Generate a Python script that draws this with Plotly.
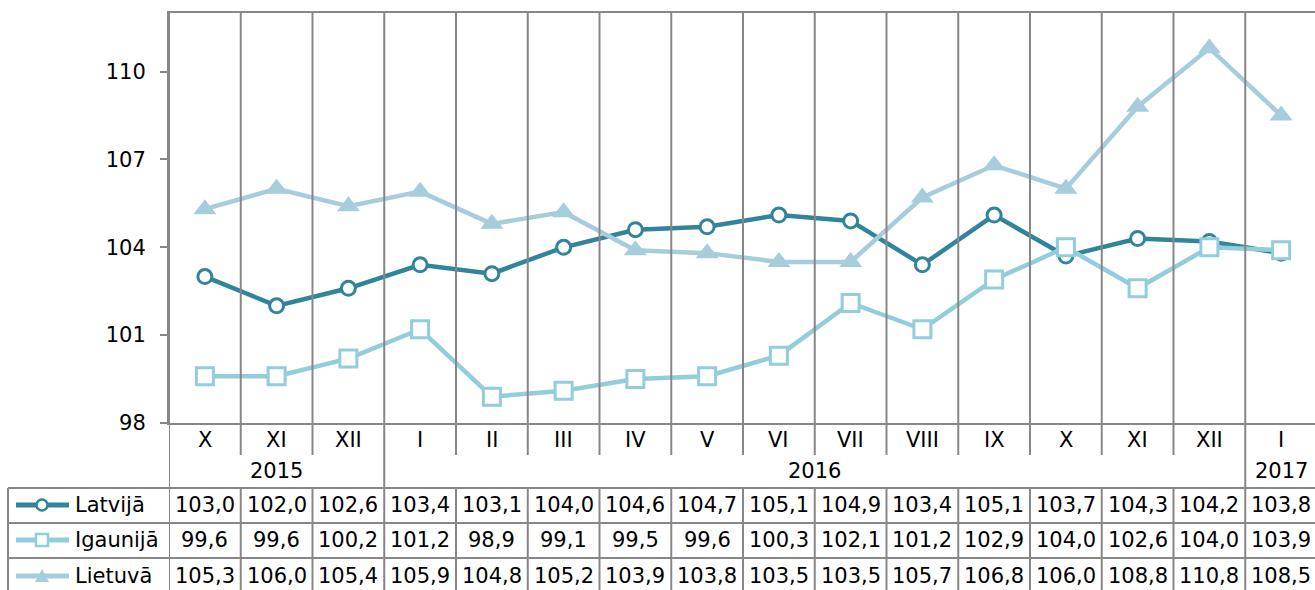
import plotly.graph_objects as go

# ---------------- data ----------------
months = ["X", "XI", "XII", "I", "II", "III", "IV", "V", "VI", "VII", "VIII", "IX", "X", "XI", "XII", "I"]
years = ["2015", "2016", "2017"]
year_first_col = [0, 3, 15]
year_last_col = [2, 14, 15]

series_names = ["Latvijā", "Igaunijā", "Lietuvā"]
latvija = [103.0, 102.0, 102.6, 103.4, 103.1, 104.0, 104.6, 104.7, 105.1, 104.9, 103.4, 105.1, 103.7, 104.3, 104.2, 103.8]
igaunija = [99.6, 99.6, 100.2, 101.2, 98.9, 99.1, 99.5, 99.6, 100.3, 102.1, 101.2, 102.9, 104.0, 102.6, 104.0, 103.9]
lietuva = [105.3, 106.0, 105.4, 105.9, 104.8, 105.2, 103.9, 103.8, 103.5, 103.5, 105.7, 106.8, 106.0, 108.8, 110.8, 108.5]
y_ticks = [98, 101, 104, 107, 110]

# ---------------- styles ----------------
W, H = 1315, 590
ML, MT = 169, 13
PW, PH = W - ML, H - MT
FONT = "DejaVu Sans"
FS = 21
GRID = "#878787"
colors = ["#31849B", "#92CDDC", "#A5CDDB"]
symbols = ["circle-open", "square-open", "triangle-up"]


def py(px):  # pixel row -> paper y
    return (H - px) / PH


def pxx(px):  # pixel column -> paper x
    return (px - ML) / PW


x = list(range(len(months)))
all_series = [latvija, igaunija, lietuva]

fig = go.Figure()
for name, vals, col, sym in zip(series_names, all_series, colors, symbols):
    if sym == "circle-open":
        marker = dict(symbol="circle", size=14, color="white", line=dict(color=col, width=3))
    elif sym == "square-open":
        marker = dict(symbol="square", size=17, color="white", line=dict(color=col, width=3))
    else:
        marker = dict(symbol="triangle-up", size=20, color=col, line=dict(color=col, width=0))
    fig.add_trace(go.Scatter(x=x, y=vals, name=name, mode="lines+markers",
                             line=dict(color=col, width=4.5), marker=marker,
                             showlegend=False, cliponaxis=False))

y_axis_bottom = py(423)
month_bottom = py(455)
table_top = py(488)
row_lines = [py(488), py(523), py(558)]
row_centers = [py(505), py(540), py(576)]

shapes = []
n = len(months)
year_bounds = set([c - 0.5 for c in year_first_col] + [year_last_col[-1] + 0.5])
for i in range(n + 1):
    b = i - 0.5
    if b in year_bounds:
        shapes.append(dict(type="line", xref="x", yref="paper", x0=b, x1=b, y0=-0.05, y1=1,
                           line=dict(color=GRID, width=2)))
    else:
        shapes.append(dict(type="line", xref="x", yref="paper", x0=b, x1=b, y0=month_bottom, y1=1,
                           line=dict(color=GRID, width=2)))
        shapes.append(dict(type="line", xref="x", yref="paper", x0=b, x1=b, y0=-0.05, y1=table_top,
                           line=dict(color=GRID, width=2)))

# table horizontal lines
for yl in row_lines:
    shapes.append(dict(type="line", xref="paper", yref="paper", x0=pxx(8), x1=1.01, y0=yl, y1=yl,
                       line=dict(color=GRID, width=2)))
# table left border
shapes.append(dict(type="line", xref="paper", yref="paper", x0=pxx(8), x1=pxx(8), y0=-0.05, y1=table_top,
                   line=dict(color=GRID, width=2)))

annotations = []
txt_font = dict(family=FONT, size=FS, color="black")
# month labels
for i, m in enumerate(months):
    annotations.append(dict(x=i, xref="x", y=py(440), yref="paper", text=m, showarrow=False,
                            xanchor="center", yanchor="middle", font=txt_font))
# year labels
for yr, c0, c1 in zip(years, year_first_col, year_last_col):
    annotations.append(dict(x=(c0 + c1) / 2, xref="x", y=py(471), yref="paper", text=yr, showarrow=False,
                            xanchor="center", yanchor="middle", font=txt_font))

# data table values and legend keys
for r, (name, vals, col, sym) in enumerate(zip(series_names, all_series, colors, symbols)):
    yc = row_centers[r]
    for i, v in enumerate(vals):
        annotations.append(dict(x=i, xref="x", y=yc, yref="paper", text=f"{v:.1f}".replace(".", ","),
                                showarrow=False, xanchor="center", yanchor="middle", font=txt_font))
    annotations.append(dict(x=pxx(73), xref="paper", xanchor="left", y=yc, yref="paper", yanchor="middle",
                            text=name, showarrow=False, font=txt_font))
    shapes.append(dict(type="line", xref="paper", yref="paper", x0=pxx(16), x1=pxx(69), y0=yc, y1=yc,
                       line=dict(color=col, width=5)))
    cx = pxx(42)
    if sym == "circle-open":
        shapes.append(dict(type="circle", xref="paper", yref="paper", xsizemode="pixel", ysizemode="pixel",
                           xanchor=cx, yanchor=yc, x0=-5.5, x1=5.5, y0=-5.5, y1=5.5,
                           fillcolor="white", line=dict(color=col, width=2.5)))
    elif sym == "square-open":
        shapes.append(dict(type="rect", xref="paper", yref="paper", xsizemode="pixel", ysizemode="pixel",
                           xanchor=cx, yanchor=yc, x0=-6, x1=6, y0=-6, y1=6,
                           fillcolor="white", line=dict(color=col, width=2.5)))
    else:
        shapes.append(dict(type="path", xref="paper", yref="paper", xsizemode="pixel", ysizemode="pixel",
                           xanchor=cx, yanchor=yc, path="M -7,-6 L 7,-6 L 0,7 Z",
                           fillcolor=col, line=dict(color=col, width=0)))

fig.update_layout(
    width=W, height=H,
    margin=dict(l=ML, r=0, t=MT, b=0, autoexpand=False),
    paper_bgcolor="white", plot_bgcolor="white",
    showlegend=False,
    font=dict(family=FONT, size=FS, color="black"),
    xaxis=dict(range=[-0.5, -0.5 + PW / 71.75], showticklabels=False, showgrid=False, zeroline=False,
               showline=True, mirror=True, linecolor=GRID, linewidth=2, ticks=""),
    yaxis=dict(domain=[y_axis_bottom, 1], range=[98, 112], tickvals=y_ticks, showgrid=False, zeroline=False,
               showline=True, linecolor=GRID, linewidth=2, ticks="outside", ticklen=7, tickwidth=2,
               tickcolor=GRID, ticklabelstandoff=10, tickfont=dict(family=FONT, size=FS, color="black")),
    shapes=shapes,
    annotations=annotations,
    hovermode=False,
)

fig.write_html("out.html", config={"displayModeBar": False, "staticPlot": True},
               post_script="document.body.style.margin='0';document.body.style.overflow='hidden';")
